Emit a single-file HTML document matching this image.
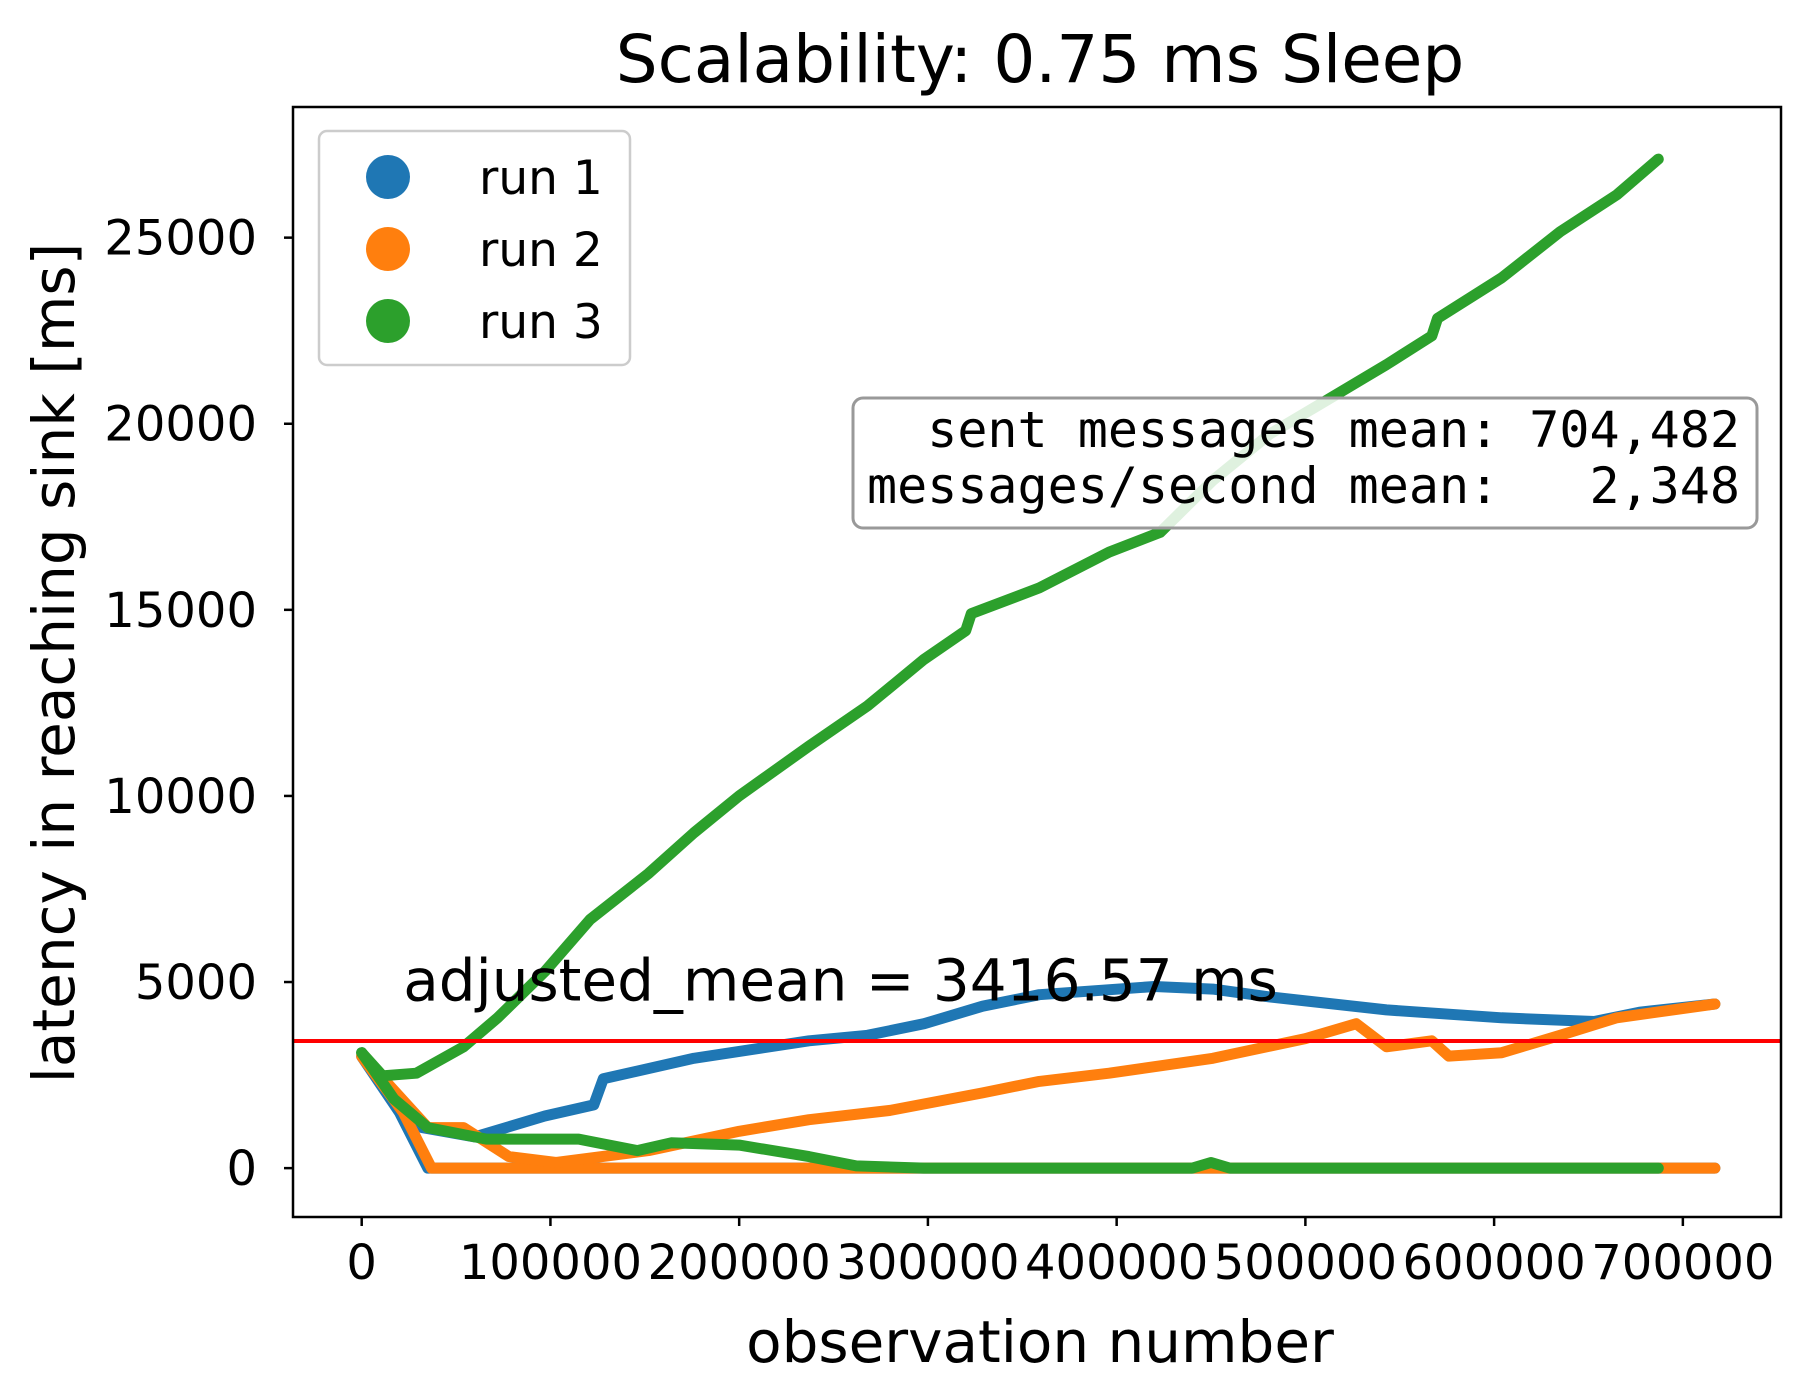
<!DOCTYPE html>
<html><head><meta charset="utf-8">
<style>
html,body{margin:0;padding:0;background:#fff;}
svg{display:block;font-family:"DejaVu Sans","Liberation Sans",sans-serif;}
</style></head>
<body>
<svg id="chart" width="1809" height="1396" viewBox="0 0 1809 1396" xmlns="http://www.w3.org/2000/svg">
<rect x="0" y="0" width="1809" height="1396" fill="#fff"/>
<text x="1040" y="82" font-size="66" text-anchor="middle" fill="#000">Scalability: 0.75 ms Sleep</text>
<g id="plot"></g>
<g id="axes"></g>
<text x="1040" y="1362" font-size="58" text-anchor="middle" fill="#000">observation number</text>
<text transform="translate(74,663) rotate(-90)" font-size="58" text-anchor="middle" fill="#000">latency in reaching sink [ms]</text>
</svg>
<script>
const xTicks = [0,100000,200000,300000,400000,500000,600000,700000];
const yTicks = [0,5000,10000,15000,20000,25000];
const meanValue = 3416.57;
const run1UpperX = [0,17000,32000,60000,97000,123000,128000,176000,237000,268000,298000,329000,359000,420000,451000,481000,543000,604000,653000,677000,717000];
const run1UpperY = [3100,1860,1090,840,1400,1700,2400,2950,3420,3570,3880,4350,4660,4880,4810,4600,4250,4040,3940,4190,4410];
const run1LowerX = [0,20000,35000,717000];
const run1LowerY = [3000,1500,0,0];
const run2UpperX = [0,35000,54000,78000,103000,152000,200000,237000,280000,329000,359000,396000,451000,500000,527000,543000,567000,576000,604000,635000,665000,717000];
const run2UpperY = [3040,1090,1090,310,150,470,990,1300,1550,2020,2330,2550,2950,3480,3880,3260,3420,3010,3100,3570,4040,4410];
const run2LowerX = [0,22000,37000,717000];
const run2LowerY = [3000,1500,0,0];
const run3UpperX = [0,11000,29000,54000,72000,97000,121000,152000,176000,200000,237000,268000,298000,320000,323000,359000,396000,423000,451000,481000,512000,543000,567000,570000,604000,635000,665000,687000];
const run3UpperY = [3100,2480,2550,3260,4040,5280,6680,7920,9010,10000,11340,12420,13670,14440,14900,15590,16550,17080,18480,19720,20650,21590,22360,22830,23920,25160,26150,27110];
const run3LowerX = [0,17000,35000,66000,115000,146000,164000,200000,237000,262000,298000,440000,450000,460000,687000];
const run3LowerY = [3100,1860,1090,780,780,470,680,620,310,60,0,0,150,0,0];

const L=293,R=1781,T=107,B=1217;
const xMin=-36400,xMax=752000,yMin=-1313,yMax=28510;
const sx=v=>L+(v-xMin)/(xMax-xMin)*(R-L);
const sy=v=>B-(v-yMin)/(yMax-yMin)*(B-T);
const NS='http://www.w3.org/2000/svg';
const plot=document.getElementById('plot');
const axes=document.getElementById('axes');
function mk(tag,attrs,parent){const e=document.createElementNS(NS,tag);for(const k in attrs)e.setAttribute(k,attrs[k]);parent.appendChild(e);return e;}

function line(xs,ys,color,name){
  const d=xs.map((x,i)=>(i?'L':'M')+sx(x).toFixed(1)+','+sy(ys[i]).toFixed(1)).join(' ');
  const p=mk('path',{d:d,fill:'none',stroke:color,'stroke-width':11,'stroke-linejoin':'round','stroke-linecap':'round'},plot);
  
  
}
line(run1LowerX,run1LowerY,'#1f77b4','run1-lower-line');
line(run1UpperX,run1UpperY,'#1f77b4','run1-upper-line');
line(run2LowerX,run2LowerY,'#ff7f0e','run2-lower-line');
line(run2UpperX,run2UpperY,'#ff7f0e','run2-upper-line');
line(run3LowerX,run3LowerY,'#2ca02c','run3-lower-line');
line(run3UpperX,run3UpperY,'#2ca02c','run3-upper-line');

const ml=mk('line',{x1:L,x2:R,y1:sy(meanValue),y2:sy(meanValue),stroke:'#ff0000','stroke-width':4},plot);


const at=mk('text',{x:sx(22000),y:sy(4500),'font-size':58,fill:'#000'},plot);
at.textContent='adjusted_mean = '+meanValue.toFixed(2)+' ms';



const tb=mk('g',{},plot);


mk('rect',{x:853,y:398,width:904,height:130,rx:10,fill:'rgba(255,255,255,0.85)',stroke:'#999','stroke-width':3},tb);
const mono='"DejaVu Sans Mono","Liberation Mono",monospace';
const t1=mk('text',{x:1740,y:447,'font-size':50,'text-anchor':'end','font-family':mono,fill:'#000'},tb);
t1.textContent='sent messages mean: 704,482';


const t2=mk('text',{x:1740,y:503,'font-size':50,'text-anchor':'end','font-family':mono,fill:'#000'},tb);
t2.textContent='messages/second mean:\u00a0\u00a0\u00a02,348';



const fr=mk('rect',{x:L,y:T,width:R-L,height:B-T,fill:'none',stroke:'#000','stroke-width':2.5},axes);


xTicks.forEach(v=>{
  const x=sx(v);
  mk('line',{x1:x,x2:x,y1:B,y2:B+9,stroke:'#000','stroke-width':2.5},axes);
  const t=mk('text',{x:x,y:B+62,'font-size':48,'text-anchor':'middle',fill:'#000'},axes);
  t.textContent=String(v);
  
  
});
yTicks.forEach(v=>{
  const y=sy(v);
  mk('line',{x1:L-9,x2:L,y1:y,y2:y,stroke:'#000','stroke-width':2.5},axes);
  const t=mk('text',{x:L-36,y:y+17,'font-size':48,'text-anchor':'end',fill:'#000'},axes);
  t.textContent=String(v);
  
  
});

const lg=mk('g',{},axes);


mk('rect',{x:319,y:131,width:311,height:234,rx:8,fill:'rgba(255,255,255,0.85)',stroke:'#ccc','stroke-width':2.5},lg);
const legendNames=['run 1','run 2','run 3'];
const legendColors=['#1f77b4','#ff7f0e','#2ca02c'];
legendNames.forEach((n,i)=>{
  const y=177+i*72;
  const c=mk('circle',{cx:388,cy:y,r:22,fill:legendColors[i]},lg);
  
  
  const t=mk('text',{x:479,y:y+17,'font-size':47,fill:'#000'},lg);
  t.textContent=n;
  
  
});
</script>
</body></html>
